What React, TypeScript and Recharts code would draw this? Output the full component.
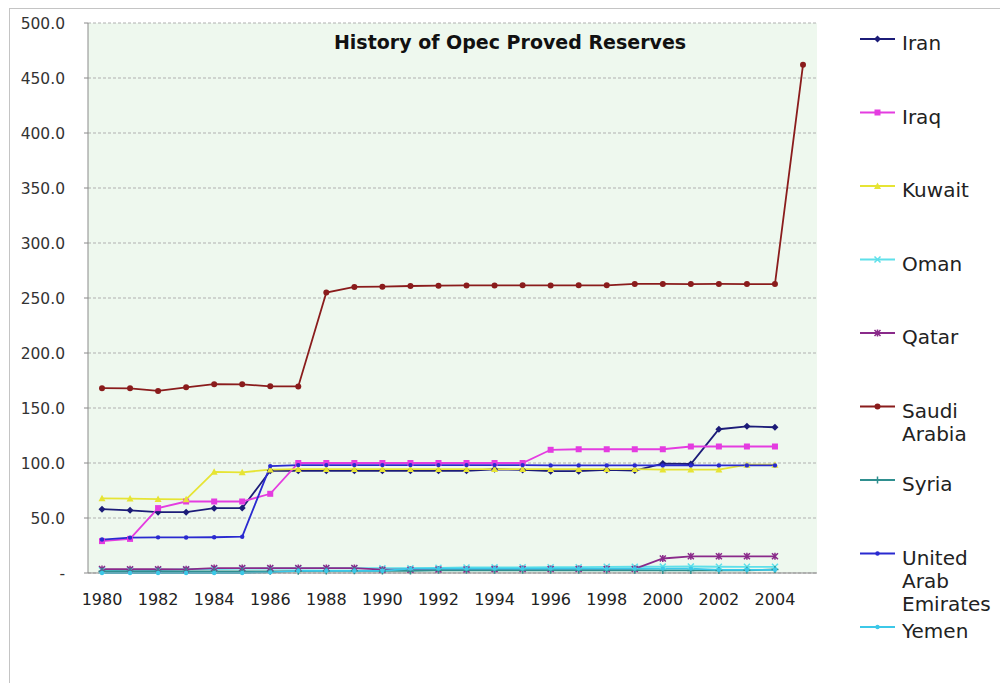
import { CartesianGrid, Line, LineChart, XAxis, YAxis } from 'recharts'

const years = [
  '1980', '1981', '1982', '1983', '1984', '1985', '1986', '1987', '1988', '1989',
  '1990', '1991', '1992', '1993', '1994', '1995', '1996', '1997', '1998', '1999',
  '2000', '2001', '2002', '2003', '2004', '2005',
]

const iran = [58.0, 57.0, 55.3, 55.3, 58.9, 59.0, 92.9, 92.9, 92.9, 92.9, 92.9, 92.9, 92.9, 92.9, 94.3, 93.7, 92.6, 92.6, 93.7, 93.1, 99.5, 99.1, 130.7, 133.3, 132.5, null]
const iraq = [29.0, 31.0, 59.0, 65.0, 65.0, 65.0, 72.0, 100.0, 100.0, 100.0, 100.0, 100.0, 100.0, 100.0, 100.0, 100.0, 112.0, 112.5, 112.5, 112.5, 112.5, 115.0, 115.0, 115.0, 115.0, null]
const kuwait = [67.9, 67.7, 67.2, 67.0, 92.0, 91.5, 94.0, 94.5, 94.5, 94.5, 94.5, 94.5, 94.5, 94.5, 94.5, 94.5, 94.5, 94.5, 94.5, 94.5, 94.0, 94.0, 94.0, 98.5, 98.5, null]
const oman = [2.5, 2.8, 2.7, 3.4, 3.5, 4.0, 4.1, 4.1, 4.3, 4.3, 4.4, 4.3, 4.7, 5.0, 5.1, 5.2, 5.3, 5.3, 5.6, 5.7, 5.8, 5.9, 5.7, 5.6, 5.6, null]
const qatar = [3.6, 3.4, 3.4, 3.3, 4.5, 4.5, 4.5, 4.5, 4.5, 4.5, 3.0, 3.0, 3.1, 3.1, 3.5, 3.7, 3.7, 3.7, 3.7, 3.7, 13.2, 15.2, 15.2, 15.2, 15.2, null]
const saudiArabia = [168.0, 167.9, 165.5, 168.8, 171.7, 171.5, 169.7, 169.6, 255.0, 260.1, 260.3, 260.9, 261.2, 261.4, 261.4, 261.5, 261.4, 261.5, 261.5, 262.8, 262.8, 262.7, 262.8, 262.7, 262.7, 462.0]
const syria = [1.5, 1.5, 1.5, 1.5, 1.5, 1.5, 1.5, 1.7, 1.9, 2.0, 1.9, 1.9, 2.5, 2.5, 2.5, 2.5, 2.5, 2.5, 2.5, 2.5, 2.3, 2.3, 2.3, 2.4, 3.2, null]
const uae = [30.4, 32.2, 32.4, 32.3, 32.5, 33.0, 97.2, 98.1, 98.1, 98.1, 98.1, 98.1, 98.1, 98.1, 98.1, 98.1, 97.8, 97.8, 97.8, 97.8, 97.8, 97.8, 97.8, 97.8, 97.8, null]
const yemen = [0, 0, 0, 0, 0, 0, 0.6, 2.0, 2.0, 2.0, 2.0, 4.0, 4.0, 4.0, 4.0, 4.0, 4.0, 4.0, 4.0, 4.0, 4.0, 4.0, 2.9, 2.9, 2.9, null]

const yTicks = [0, 50, 100, 150, 200, 250, 300, 350, 400, 450, 500]

type Shape = 'diamond' | 'square' | 'triangle' | 'x' | 'star' | 'circle' | 'plus' | 'dot'

const series: { key: string; name: string; values: (number | null)[]; color: string; shape: Shape }[] = [
  { key: 'iran', name: 'Iran', values: iran, color: '#1c1c78', shape: 'diamond' },
  { key: 'iraq', name: 'Iraq', values: iraq, color: '#e43ce0', shape: 'square' },
  { key: 'kuwait', name: 'Kuwait', values: kuwait, color: '#e6e434', shape: 'triangle' },
  { key: 'oman', name: 'Oman', values: oman, color: '#5ee0ea', shape: 'x' },
  { key: 'qatar', name: 'Qatar', values: qatar, color: '#8a2a8a', shape: 'star' },
  { key: 'saudi', name: 'Saudi Arabia', values: saudiArabia, color: '#8a1c1c', shape: 'circle' },
  { key: 'syria', name: 'Syria', values: syria, color: '#2f8f8f', shape: 'plus' },
  { key: 'uae', name: 'United Arab Emirates', values: uae, color: '#2a2ad0', shape: 'dot' },
  { key: 'yemen', name: 'Yemen', values: yemen, color: '#3cc8e8', shape: 'dot' },
]

const data = years.map((year, i) => {
  const row: Record<string, string | number | null> = { year }
  series.forEach((s) => { row[s.key] = s.values[i] })
  return row
})

const FONT = '"DejaVu Sans", Verdana, sans-serif'

function Marker({ shape, x, y, color }: { shape: Shape; x: number; y: number; color: string }) {
  switch (shape) {
    case 'diamond':
      return <path d={`M${x},${y - 3.5}L${x + 3.5},${y}L${x},${y + 3.5}L${x - 3.5},${y}Z`} fill={color} />
    case 'square':
      return <rect x={x - 3} y={y - 3} width={6} height={6} fill={color} />
    case 'triangle':
      return <path d={`M${x},${y - 3.5}L${x + 3.5},${y + 3}L${x - 3.5},${y + 3}Z`} fill={color} />
    case 'x':
      return <path d={`M${x - 3},${y - 3}L${x + 3},${y + 3}M${x - 3},${y + 3}L${x + 3},${y - 3}`} stroke={color} strokeWidth={1.5} />
    case 'star':
      return <path d={`M${x - 3},${y - 3}L${x + 3},${y + 3}M${x - 3},${y + 3}L${x + 3},${y - 3}M${x},${y - 3.5}L${x},${y + 3.5}`} stroke={color} strokeWidth={1.5} />
    case 'plus':
      return <path d={`M${x - 3.5},${y}L${x + 3.5},${y}M${x},${y - 3.5}L${x},${y + 3.5}`} stroke={color} strokeWidth={1.5} />
    case 'circle':
      return <circle cx={x} cy={y} r={3} fill={color} />
    default:
      return <circle cx={x} cy={y} r={2.2} fill={color} />
  }
}

export default function App() {
  const legendTop = 50
  const legendStep = 73.5

  return (
    <div style={{ position: 'fixed', left: 0, top: 0, width: 1000, height: 683, overflow: 'hidden', background: '#fff', fontFamily: FONT }}>
      <div style={{ position: 'absolute', left: 9, top: 8, width: 1200, height: 900, borderLeft: '1px solid #c4c4c4', borderTop: '1px solid #c4c4c4' }} />
      <div style={{ position: 'absolute', left: 0, top: 0 }}>
        <LineChart width={1000} height={683} data={data} margin={{ top: 23, right: 183, bottom: 80, left: 10 }}>
          <CartesianGrid vertical={false} fill="#eef8ee" stroke="#b0b0b0" strokeDasharray="3 2" />
          <XAxis
            dataKey="year"
            interval={1}
            height={30}
            padding={{ left: 14, right: 14 }}
            tickSize={0}
            tickMargin={21}
            axisLine={{ stroke: '#8a8a8a' }}
            tick={{ fontSize: 16, fill: '#222', fontFamily: FONT }}
          />
          <XAxis xAxisId="top" orientation="top" dataKey="year" padding={{ left: 14, right: 14 }} height={0} tick={false} tickLine={false} axisLine={{ stroke: '#9a9a9a' }} />
          <YAxis
            domain={[0, 500]}
            ticks={yTicks}
            width={78}
            tickSize={4}
            tickMargin={19}
            axisLine={{ stroke: '#8a8a8a' }}
            tickLine={{ stroke: '#8a8a8a' }}
            tickFormatter={(v: number) => (v === 0 ? '-' : v.toFixed(1))}
            tick={{ fontSize: 15.5, fill: '#333', fontFamily: FONT }}
          />
          <YAxis yAxisId="right" orientation="right" width={0} domain={[0, 500]} tick={false} tickLine={false} axisLine={{ stroke: '#9a9a9a' }} />
          {series.map((s) => (
            <Line
              key={s.key}
              dataKey={s.key}
              name={s.name}
              stroke={s.color}
              strokeWidth={1.8}
              isAnimationActive={false}
              dot={(p: any) => (
                <g key={`${s.key}-${p.index}`}>
                  {p.cy == null || p.value == null ? null : <Marker shape={s.shape} x={p.cx} y={p.cy} color={s.color} />}
                </g>
              )}
              activeDot={false}
            />
          ))}
        </LineChart>
      </div>
      <svg width={1000} height={683} style={{ position: 'absolute', left: 0, top: 0, pointerEvents: 'none' }}>
        <text x={510} y={49} textAnchor="middle" fontFamily={FONT} fontWeight="bold" fontSize={19} fill="#111">
          History of Opec Proved Reserves
        </text>
        {series.map((s, i) => {
          const base = legendTop + i * legendStep
          const ly = base - 11
          return (
            <g key={s.key}>
              <line x1={860} x2={895} y1={ly} y2={ly} stroke={s.color} strokeWidth={1.8} />
              <Marker shape={s.shape} x={877.5} y={ly} color={s.color} />
              <text x={902} y={base} fontFamily={FONT} fontSize={20} fill="#222">
                {s.name.split(' ').map((w, j) => (
                  <tspan key={w} x={902} y={base + j * 23}>{w}</tspan>
                ))}
              </text>
            </g>
          )
        })}
      </svg>
    </div>
  )
}
